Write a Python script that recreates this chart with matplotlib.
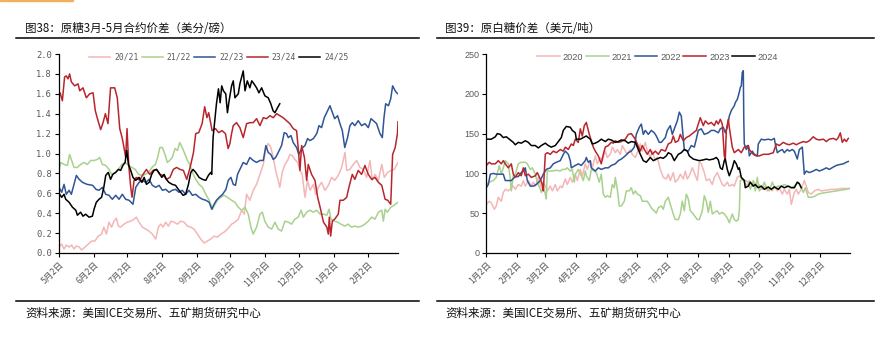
import matplotlib
matplotlib.use("Agg")
import matplotlib.pyplot as plt
from matplotlib.lines import Line2D
from matplotlib.patches import Rectangle

plt.rcParams['font.family'] = ['Noto Sans CJK SC', 'DejaVu Sans']

# ---------------- left chart: raw sugar Mar-May spread (c/lb) ----------------
# x = days after 5月2日
left_ticks = [0, 31, 61, 92, 123, 153, 184, 214, 245, 276]
left_labels = ['5月2日', '6月2日', '7月2日', '8月2日', '9月2日',
               '10月2日', '11月2日', '12月2日', '1月2日', '2月2日']

s2021_days = [
    0, 2.4, 4.5, 6.5, 9, 11.3, 13.4, 15.5, 18, 20.2,
    23.2, 26.2, 29.2, 32, 35, 38, 40, 42.3, 44.6, 47,
    49, 51.2, 53, 55, 58, 61, 64, 67, 69, 71.4,
    74.4, 77.4, 80.4, 83.3, 86.3, 88.7, 90.8, 92.9, 95.2, 97.6,
    100, 102.7, 105.7, 108.6, 111.6, 114.6, 117.6, 120.5, 123.5, 126.5,
    129.5, 132.4, 135.4, 138.4, 141.4, 144.3, 147.3, 150.3, 154, 157,
    160, 163, 165.3, 167.4, 170.3, 173.3, 176.3, 179.3, 182.3, 184.3,
    186.7, 189, 191.2, 193.3, 195.6, 197, 199.2, 201.6, 204, 206,
    208, 210.5, 213, 215, 217, 219.5, 221.8, 224, 227, 229,
    231.4, 234.3, 237.3, 240.3, 243.3, 246, 249.2, 252.2, 255.2, 256.7,
    259.6, 262.6, 265.6, 268.6, 271.5, 274.5, 277.5, 279.6, 282, 285,
    288, 290.3, 293.3, 296.2, 299.2, 302.5]
s2021_vals = [
    0.06, 0.09, 0.04, 0.08, 0.06, 0.08, 0.04, 0.07, 0.06, 0.03,
    0.06, 0.09, 0.12, 0.12, 0.17, 0.19, 0.26, 0.19, 0.31, 0.26,
    0.32, 0.35, 0.27, 0.26, 0.29, 0.31, 0.32, 0.34, 0.36, 0.31,
    0.26, 0.24, 0.22, 0.19, 0.14, 0.26, 0.29, 0.26, 0.31, 0.27,
    0.32, 0.31, 0.29, 0.32, 0.31, 0.27, 0.26, 0.24, 0.19, 0.14,
    0.10, 0.12, 0.14, 0.17, 0.16, 0.19, 0.21, 0.24, 0.29, 0.31,
    0.34, 0.43, 0.39, 0.59, 0.53, 0.63, 0.69, 0.79, 0.89, 1.03,
    1.10, 1.06, 0.96, 0.83, 0.73, 0.66, 0.81, 0.89, 0.93, 0.99,
    0.98, 0.94, 0.91, 0.83, 0.79, 0.56, 0.73, 0.63, 0.69, 0.59,
    0.66, 0.71, 0.63, 0.68, 0.76, 0.73, 0.78, 0.86, 1.01, 0.83,
    0.84, 0.89, 0.93, 0.86, 0.84, 0.76, 0.93, 0.73, 0.79, 0.73,
    0.89, 0.76, 0.81, 0.83, 0.84, 0.91]

s2122_days = [
    0, 1.5, 4.5, 7.5, 9.5, 11.3, 13.4, 16.4, 19.3, 22.3,
    25.3, 28.3, 31.3, 34.2, 36.3, 38.7, 41.7, 44.6, 47, 50,
    53, 56, 59, 62, 65, 68, 71, 74, 77, 80,
    83, 86, 88, 90, 92.3, 94.6, 96.7, 98.8, 101, 103.6,
    105.7, 107.7, 110, 112.5, 114.6, 116.7, 119, 122, 125, 128,
    131, 134, 137, 139.3, 141.4, 144.3, 147.3, 150.3, 154, 157,
    160, 163, 166, 168.9, 171.2, 173.3, 176.3, 179.3, 181.4, 183.7,
    186.7, 189.7, 192.7, 195.6, 198.6, 201.6, 204.6, 207.5, 210.5, 213.5,
    216, 218, 221, 224, 227, 230, 233, 236, 239, 241,
    242.7, 245.6, 248.6, 251.6, 255, 258, 261, 264, 267, 270,
    273, 276, 279, 282, 285, 288, 289.4, 291, 293, 296,
    299, 302.5]
s2122_vals = [
    0.83, 0.91, 0.89, 0.88, 0.99, 0.93, 0.86, 0.86, 0.89, 0.91,
    0.89, 0.93, 0.93, 0.94, 0.96, 0.89, 0.88, 0.84, 0.79, 0.81,
    0.84, 0.89, 0.91, 0.88, 0.86, 0.84, 0.79, 0.78, 0.79, 0.81,
    0.86, 0.89, 0.96, 1.06, 1.06, 0.99, 0.91, 0.93, 0.96, 1.05,
    1.03, 1.11, 1.06, 0.99, 0.93, 0.89, 0.81, 0.74, 0.69, 0.66,
    0.59, 0.53, 0.44, 0.49, 0.53, 0.56, 0.58, 0.56, 0.53, 0.51,
    0.46, 0.43, 0.46, 0.39, 0.26, 0.19, 0.26, 0.39, 0.41, 0.32,
    0.26, 0.24, 0.31, 0.24, 0.22, 0.32, 0.31, 0.29, 0.34, 0.36,
    0.43, 0.36, 0.41, 0.43, 0.41, 0.43, 0.39, 0.39, 0.38, 0.44,
    0.34, 0.32, 0.31, 0.29, 0.27, 0.29, 0.26, 0.27, 0.26, 0.27,
    0.29, 0.32, 0.36, 0.34, 0.41, 0.43, 0.32, 0.44, 0.41, 0.46,
    0.48, 0.51]

s2223_days = [
    0, 2.4, 4.5, 6.5, 9, 11, 13.4, 15.5, 18, 21,
    25, 30, 33, 35.7, 38.7, 41.7, 44.6, 47.6, 50.6, 53.6,
    56.5, 59.5, 62.5, 66, 68.5, 71.4, 74.4, 77.4, 80.4, 83.3,
    86.3, 89.3, 92.3, 95.2, 98.2, 101, 104, 107, 110, 113,
    116, 119, 122, 125, 128, 131, 134, 136.3, 138.4, 140.5,
    143, 146, 149, 151, 153.4, 155.5, 157.5, 159.3, 161.4, 164.4,
    167.4, 170.3, 173.3, 176.3, 179.3, 182.3, 184.6, 186.7, 189, 191.2,
    193.3, 195.6, 198.6, 201, 203, 204.6, 207, 209, 212, 214,
    216.5, 219.5, 221.8, 224, 227, 230, 232, 234.3, 236.7, 239.7,
    241.8, 244, 246, 248.6, 250.7, 252.8, 255, 257.5, 259.6, 261.7,
    264, 267, 270, 273, 276, 278.4, 280.5, 283.4, 286.4, 288.5,
    290, 291.5, 294, 296, 297.7, 300, 301.3, 302.5]
s2223_vals = [
    0.66, 0.61, 0.69, 0.59, 0.63, 0.59, 0.69, 0.78, 0.74, 0.71,
    0.69, 0.68, 0.64, 0.63, 0.66, 0.59, 0.58, 0.54, 0.58, 0.54,
    0.59, 0.54, 0.53, 0.49, 0.66, 0.71, 0.73, 0.71, 0.74, 0.68,
    0.66, 0.68, 0.63, 0.64, 0.61, 0.63, 0.64, 0.61, 0.63, 0.59,
    0.63, 0.58, 0.59, 0.56, 0.54, 0.53, 0.51, 0.44, 0.49, 0.53,
    0.56, 0.59, 0.64, 0.73, 0.76, 0.69, 0.68, 0.79, 0.84, 0.91,
    0.89, 0.96, 0.93, 0.91, 0.93, 0.93, 1.08, 1.01, 0.99, 0.94,
    0.96, 1.01, 1.08, 1.21, 1.20, 1.16, 1.18, 1.11, 1.06, 0.99,
    1.05, 1.08, 1.15, 1.13, 1.15, 1.20, 1.28, 1.26, 1.36, 1.43,
    1.48, 1.41, 1.35, 1.38, 1.30, 1.23, 1.06, 1.16, 1.28, 1.31,
    1.28, 1.33, 1.28, 1.30, 1.26, 1.35, 1.33, 1.30, 1.20, 1.16,
    1.36, 1.50, 1.48, 1.55, 1.68, 1.63, 1.61, 1.60]

s2324_days = [
    0, 1, 3, 5, 6.5, 8, 9.5, 11, 14, 17,
    18.5, 21.4, 24.4, 27.4, 30.4, 32.4, 34.8, 37.2, 39.3, 41.4,
    43.7, 46, 49.7, 52, 54.2, 56.3, 58, 59.5, 60.7, 62.2,
    64, 65.2, 67, 69, 72, 75, 78, 81, 84, 87,
    90, 93, 96, 99, 102, 105, 108, 111, 114, 117,
    120, 122, 124.7, 127.7, 130, 132, 133.6, 136.6, 139.6, 142.5,
    145.5, 148.5, 150.9, 152.5, 154, 155.5, 158.4, 161.4, 164.4, 167.4,
    170.3, 173.3, 176.3, 179.3, 182.3, 185.2, 188.2, 191.2, 194.2, 197.1,
    200, 203, 206, 209, 212, 213.5, 215, 216.5, 219, 221,
    222.4, 225.4, 228.4, 230.8, 233, 236, 239, 240.3, 241.2, 242.4,
    243.9, 246, 249.2, 250.7, 253.7, 256.7, 258.7, 261.7, 264, 267,
    270, 273, 276, 279, 282, 285, 288, 291, 293.3, 296,
    297.7, 300, 302, 302.5]
s2324_vals = [
    1.60, 1.61, 1.53, 1.77, 1.78, 1.75, 1.80, 1.72, 1.68, 1.70,
    1.63, 1.66, 1.56, 1.60, 1.61, 1.43, 1.33, 1.24, 1.31, 1.40,
    1.30, 1.66, 1.66, 1.56, 1.25, 1.16, 1.06, 0.96, 1.25, 0.89,
    0.66, 0.56, 0.73, 0.76, 0.73, 0.79, 0.84, 0.79, 0.83, 0.84,
    0.79, 0.78, 0.74, 0.76, 0.84, 0.86, 0.84, 0.83, 0.74, 0.86,
    1.01, 1.20, 1.21, 1.30, 1.47, 1.36, 1.41, 1.23, 1.25, 1.21,
    1.23, 1.20, 1.05, 1.10, 1.20, 1.28, 1.31, 1.26, 1.16, 1.30,
    1.31, 1.31, 1.35, 1.28, 1.36, 1.35, 1.38, 1.36, 1.40, 1.38,
    1.36, 1.33, 1.30, 1.25, 1.23, 1.05, 0.83, 1.08, 0.96, 0.73,
    0.89, 0.79, 0.73, 0.56, 0.46, 0.31, 0.26, 0.19, 0.36, 0.17,
    0.32, 0.34, 0.39, 0.53, 0.53, 0.56, 0.66, 0.79, 0.74, 0.83,
    0.79, 0.88, 0.79, 0.74, 0.76, 0.71, 0.68, 0.54, 0.53, 0.49,
    0.99, 1.06, 1.20, 1.32]

s2425_days = [
    0, 2.4, 4.5, 6, 9, 12, 15, 16.4, 19.3, 21.4,
    23.8, 26.8, 29.8, 31.3, 33.3, 35.7, 38, 40, 41.7, 44,
    46, 48, 50.6, 53, 55, 57, 59, 60.4, 62, 64,
    66, 68.5, 71.4, 74, 76, 78, 80.4, 82.7, 84.8, 87,
    89, 91.7, 93.8, 95.8, 98, 101, 104, 106.5, 108.6, 110.7,
    113, 115.5, 117.6, 119.6, 122, 125, 128, 131, 133.3, 135.4,
    136.3, 137.5, 139, 140.5, 142.3, 143.8, 145.2, 146.7, 148.8, 150.3,
    151.8, 154, 155.5, 157, 160, 161.4, 164.4, 166, 168, 170.3,
    172, 174, 176.3, 178.4, 180.8, 183.7, 186.7, 189, 191, 192.7,
    195, 197]
s2425_vals = [
    0.60, 0.56, 0.59, 0.54, 0.51, 0.46, 0.43, 0.38, 0.41, 0.37,
    0.39, 0.36, 0.37, 0.44, 0.51, 0.54, 0.56, 0.66, 0.78, 0.81,
    0.74, 0.79, 0.81, 0.84, 0.83, 0.88, 0.91, 1.03, 0.89, 0.83,
    0.76, 0.73, 0.76, 0.71, 0.76, 0.69, 0.71, 0.79, 0.83, 0.84,
    0.81, 0.76, 0.79, 0.74, 0.71, 0.69, 0.68, 0.64, 0.61, 0.58,
    0.59, 0.69, 0.81, 0.84, 0.81, 0.76, 0.74, 0.73, 0.78, 0.81,
    0.79, 1.16, 1.33, 1.50, 1.65, 1.51, 1.68, 1.63, 1.60, 1.41,
    1.53, 1.68, 1.73, 1.56, 1.60, 1.70, 1.83, 1.63, 1.73, 1.66,
    1.73, 1.70, 1.66, 1.61, 1.66, 1.58, 1.56, 1.50, 1.43, 1.41,
    1.46, 1.50]

# ---------------- right chart: white premium (USD/t) ----------------
# x = days after 1月2日
right_ticks = [0, 31, 59, 90, 120, 151, 181, 212, 243, 273, 304, 334]
right_labels = ['1月2日', '2月2日', '3月2日', '4月2日', '5月2日', '6月2日',
                '7月2日', '8月2日', '9月2日', '10月2日', '11月2日', '12月2日']

w2020_days = [
    0, 3, 5, 8, 10, 12, 15, 17, 19, 22,
    25, 27, 29, 32, 35, 37, 39, 42, 45, 47,
    49, 52, 55, 57, 59, 61, 64, 66, 69, 71,
    74, 76, 79, 81, 84, 86, 89, 91, 94, 96,
    99, 101, 104, 106, 109, 111, 114, 116, 119, 121,
    124, 126, 129, 131, 134, 136, 139, 141, 144, 146,
    149, 151, 154, 156, 159, 161, 164, 166, 169, 171,
    174, 177, 180, 182, 184, 187, 189, 192, 194, 197,
    199, 201, 203, 206, 208, 211, 213, 215, 218, 220,
    223, 226, 228, 231, 233, 236, 238, 241, 243, 246,
    248, 251, 253, 256, 258, 261, 263, 266, 268, 271,
    273, 276, 278, 281, 283, 286, 288, 291, 293, 296,
    298, 301, 303, 305, 308, 310, 312, 315, 318, 320,
    322, 325, 328, 332, 335, 340, 345, 350, 355, 360,
    363]
w2020_vals = [
    61, 65, 63, 55, 59, 70, 65, 76, 80, 78,
    82, 84, 80, 86, 84, 91, 84, 91, 84, 89,
    84, 95, 82, 89, 84, 78, 84, 78, 86, 78,
    84, 82, 93, 86, 95, 89, 99, 91, 105, 97,
    112, 105, 116, 107, 122, 112, 120, 116, 128, 120,
    124, 133, 126, 130, 124, 135, 128, 124, 130, 124,
    120, 126, 137, 128, 139, 128, 120, 128, 116, 120,
    105, 95, 93, 99, 91, 101, 89, 93, 99, 93,
    103, 93, 97, 107, 101, 91, 114, 112, 101, 91,
    93, 86, 95, 101, 95, 86, 84, 89, 84, 86,
    84, 95, 97, 93, 89, 84, 91, 84, 89, 82,
    86, 80, 84, 78, 82, 78, 84, 78, 82, 74,
    80, 74, 80, 61, 76, 80, 74, 80, 91, 84,
    76, 74, 78, 80, 78, 79, 80, 80, 81, 81,
    81]

w2021_days = [
    0, 3, 7, 10, 13, 15, 17, 19, 22, 24,
    25, 27, 29, 32, 35, 39, 41, 44, 46, 49,
    51, 54, 55, 57, 59, 60, 61, 64, 67, 70,
    74, 76, 79, 81, 84, 86, 88, 89, 92, 95,
    97, 99, 100, 103, 105, 108, 110, 113, 115, 117,
    119, 121, 124, 126, 128, 129, 131, 133, 135, 138,
    140, 143, 145, 147, 149, 151, 154, 156, 159, 161,
    164, 166, 168, 170, 172, 175, 177, 179, 182, 184,
    187, 189, 192, 194, 196, 198, 200, 202, 204, 207,
    208, 211, 213, 216, 218, 220, 222, 224, 226, 228,
    231, 233, 236, 238, 241, 243, 246, 248, 250, 252,
    253, 254, 257, 259, 262, 264, 267, 269, 271, 273,
    276, 278, 281, 283, 286, 288, 292, 295, 298, 302,
    305, 308, 312, 315, 317, 319, 322, 325, 328, 332,
    335, 340, 345, 350, 355, 360, 363]
w2021_vals = [
    86, 89, 91, 95, 110, 99, 107, 116, 112, 93,
    78, 97, 99, 112, 114, 114, 112, 105, 107, 99,
    89, 80, 76, 84, 74, 68, 103, 103, 103, 104,
    103, 105, 105, 107, 103, 105, 89, 99, 105, 97,
    91, 103, 97, 91, 105, 103, 101, 89, 99, 74,
    70, 72, 70, 86, 82, 95, 80, 59, 59, 65,
    78, 78, 82, 74, 78, 74, 72, 65, 65, 65,
    59, 55, 53, 50, 57, 59, 55, 65, 70, 61,
    49, 42, 42, 49, 65, 53, 74, 68, 53, 49,
    47, 42, 42, 53, 72, 65, 51, 65, 49, 51,
    53, 49, 51, 49, 44, 38, 49, 42, 40, 42,
    53, 91, 93, 91, 89, 80, 91, 78, 95, 78,
    82, 89, 80, 78, 89, 82, 84, 84, 86, 84,
    82, 84, 89, 82, 76, 82, 70, 70, 71, 74,
    75, 76, 77, 78, 79, 80, 81]

w2022_days = [
    0, 2, 4, 7, 10, 14, 17, 19, 22, 25,
    29, 32, 35, 38, 39, 41, 44, 47, 50, 54,
    57, 60, 64, 67, 70, 74, 77, 79, 82, 84,
    85, 89, 92, 95, 99, 100, 102, 104, 105, 109,
    112, 115, 119, 122, 125, 129, 132, 135, 139, 142,
    145, 148, 150, 153, 155, 157, 159, 162, 165, 168,
    170, 173, 175, 179, 181, 184, 186, 188, 191, 193,
    195, 197, 198, 202, 205, 208, 210, 212, 215, 218,
    222, 225, 228, 232, 234, 237, 239, 241, 243, 245,
    248, 249, 251, 253, 254, 255, 256, 257, 257.5, 258,
    260, 262, 263, 266, 268, 271, 272, 275, 278, 282,
    285, 288, 289, 291, 293, 296, 298, 301, 303, 306,
    308, 311, 313, 316, 318, 320, 323, 327, 330, 333,
    337, 340, 343, 347, 350, 353, 357, 360, 362]
w2022_vals = [
    82, 86, 99, 100, 99, 99, 99, 91, 91, 91,
    96, 96, 101, 105, 107, 91, 84, 84, 86, 91,
    99, 105, 107, 112, 114, 116, 124, 128, 124, 116,
    107, 110, 112, 110, 116, 120, 114, 116, 107, 103,
    107, 105, 107, 107, 110, 112, 116, 118, 122, 126,
    128, 133, 149, 158, 162, 149, 154, 149, 154, 151,
    147, 139, 139, 145, 154, 160, 149, 156, 166, 177,
    172, 143, 130, 128, 135, 133, 143, 154, 156, 149,
    151, 154, 154, 151, 156, 158, 151, 158, 172, 179,
    185, 189, 193, 202, 208, 210, 227, 229, 166, 137,
    130, 135, 122, 128, 124, 122, 137, 143, 142, 143,
    142, 144, 137, 126, 128, 130, 126, 130, 128, 130,
    128, 118, 130, 133, 99, 103, 101, 103, 105, 103,
    105, 107, 105, 108, 110, 111, 112, 114, 115]

w2023_days = [
    0, 3, 5, 9, 12, 15, 17, 19, 22, 25,
    27, 29, 32, 35, 37, 39, 42, 45, 49, 51,
    54, 56, 57, 59, 61, 64, 67, 70, 74, 77,
    79, 82, 85, 87, 89, 92, 94, 96, 98, 100,
    103, 105, 107, 109, 112, 115, 117, 119, 122, 125,
    127, 129, 132, 135, 139, 142, 145, 149, 151, 154,
    156, 159, 161, 164, 166, 169, 172, 175, 179, 182,
    185, 187, 189, 192, 194, 197, 200, 203, 207, 210,
    212, 214, 217, 219, 222, 225, 228, 230, 232, 234,
    236, 238, 239, 240, 242, 243, 246, 248, 252, 255,
    258, 262, 263, 267, 270, 273, 277, 282, 287, 290,
    293, 297, 300, 303, 307, 310, 313, 317, 320, 323,
    327, 330, 333, 337, 340, 343, 347, 350, 352, 354,
    356, 358, 360, 362]
w2023_vals = [
    110, 114, 112, 112, 116, 112, 116, 112, 107, 112,
    99, 95, 101, 97, 107, 97, 99, 95, 97, 101,
    93, 86, 78, 124, 126, 124, 128, 126, 130, 128,
    133, 130, 137, 135, 143, 139, 156, 147, 160, 164,
    149, 141, 133, 128, 122, 112, 124, 133, 135, 139,
    138, 141, 139, 140, 143, 149, 150, 143, 137, 128,
    135, 128, 124, 130, 124, 128, 124, 130, 128, 137,
    139, 147, 139, 141, 149, 141, 145, 147, 151, 154,
    162, 170, 160, 166, 162, 164, 160, 166, 162, 168,
    162, 122, 118, 154, 168, 158, 133, 126, 130, 126,
    133, 135, 130, 124, 122, 122, 124, 124, 126, 137,
    135, 139, 137, 136, 138, 136, 138, 140, 139, 141,
    146, 143, 142, 143, 140, 143, 144, 142, 145, 151,
    139, 143, 140, 144]

w2024_days = [
    0, 5, 9, 11, 14, 17, 20, 24, 27, 29,
    32, 35, 39, 42, 45, 49, 52, 55, 59, 62,
    65, 69, 72, 75, 77, 80, 84, 86, 89, 90,
    94, 97, 100, 104, 106, 109, 112, 115, 119, 122,
    125, 129, 132, 135, 139, 142, 145, 149, 151, 154,
    157, 160, 164, 167, 170, 174, 177, 180, 182, 185,
    188, 192, 195, 198, 201, 203, 207, 210, 213, 217,
    220, 223, 227, 230, 232, 234, 236, 238, 239, 241,
    243, 246, 248, 250, 252, 253, 255, 258, 259, 262,
    264, 267, 269, 272, 275, 278, 282, 285, 288, 292,
    295, 298, 302, 305, 308, 311, 313, 315]
w2024_vals = [
    143, 143, 146, 150, 149, 145, 146, 142, 139, 136,
    139, 138, 141, 139, 135, 135, 132, 135, 138, 135,
    133, 135, 140, 145, 154, 159, 158, 154, 151, 143,
    143, 145, 147, 143, 137, 138, 140, 143, 140, 143,
    142, 139, 140, 142, 141, 138, 140, 139, 133, 124,
    116, 114, 120, 116, 118, 120, 119, 122, 126, 124,
    116, 124, 126, 130, 128, 122, 118, 117, 116, 117,
    118, 117, 118, 120, 117, 107, 105, 116, 118, 105,
    97, 107, 116, 112, 105, 107, 95, 91, 82, 84,
    89, 84, 86, 82, 84, 80, 83, 80, 83, 80,
    84, 82, 84, 82, 82, 89, 87, 82]

colors = ['#F4B6B6', '#A9D18E', '#2F5597', '#B8262D', '#000000']

left_series = [('20/21', s2021_days, s2021_vals), ('21/22', s2122_days, s2122_vals),
               ('22/23', s2223_days, s2223_vals), ('23/24', s2324_days, s2324_vals),
               ('24/25', s2425_days, s2425_vals)]
right_series = [('2020', w2020_days, w2020_vals), ('2021', w2021_days, w2021_vals),
                ('2022', w2022_days, w2022_vals), ('2023', w2023_days, w2023_vals),
                ('2024', w2024_days, w2024_vals)]

fig = plt.figure(figsize=(8.82, 3.49), dpi=100)
W, H = 882.0, 349.0

# decoration: orange tab, rules, titles, sources
fig.patches.append(Rectangle((0, 1 - 1.3 / H), 73 / W, 1.3 / H, transform=fig.transFigure,
                             color='#F0B060', zorder=0))
for x0, x1 in [(16, 419), (437, 874)]:
    for y in (38, 301):
        fig.add_artist(Line2D([x0 / W, x1 / W], [1 - y / H, 1 - y / H],
                              color='black', lw=1.1))

tick_gray = '#595959'
fig.text(25 / W, 1 - 28 / H, '图38：原糖3月-5月合约价差（美分/磅）', fontsize=8.3,
         va='center', ha='left', color='#111111')
fig.text(445 / W, 1 - 28 / H, '图39：原白糖价差（美元/吨）', fontsize=8.3,
         va='center', ha='left', color='#111111')
fig.text(25 / W, 1 - 313 / H, '资料来源：美国ICE交易所、五矿期货研究中心', fontsize=8.3,
         va='center', ha='left', color='#111111')
fig.text(445 / W, 1 - 313 / H, '资料来源：美国ICE交易所、五矿期货研究中心', fontsize=8.3,
         va='center', ha='left', color='#111111')


def style_axes(ax):
    for side in ('top', 'right'):
        ax.spines[side].set_visible(False)
    for side in ('left', 'bottom'):
        ax.spines[side].set_linewidth(0.9)
    ax.tick_params(axis='both', direction='out', length=3, width=0.8, colors='black',
                   labelcolor=tick_gray, pad=2)


# left chart
axl = fig.add_axes([59 / W, 1 - 253 / H, 339 / W, 199 / H])
for (name, d, v), c in zip(left_series, colors):
    axl.plot(d, v, color=c, lw=1.1, label=name)
axl.set_xlim(0, 302.5)
axl.set_ylim(0, 2.0)
axl.set_yticks([i * 0.2 for i in range(11)])
axl.set_yticklabels(['%.1f' % (i * 0.2) for i in range(11)],
                    family='DejaVu Sans Mono', fontsize=6.3)
axl.set_xticks(left_ticks)
axl.set_xticklabels(left_labels, rotation=45, ha='right', va='top',
                    rotation_mode='anchor', fontsize=6.3)
style_axes(axl)
fig.legend(*axl.get_legend_handles_labels(), loc='center', ncol=5, frameon=False,
           bbox_to_anchor=(219 / W, 1 - 57 / H), prop={'family': 'DejaVu Sans Mono', 'size': 5.8},
           handlelength=2.6, handletextpad=0.5, columnspacing=0.4,
           labelcolor=tick_gray)

# right chart
axr = fig.add_axes([486.3 / W, 1 - 253 / H, 363.7 / W, 199 / H])
for (name, d, v), c in zip(right_series, colors):
    axr.plot(d, v, color=c, lw=1.1, label=name)
axr.set_xlim(0, 363.7)
axr.set_ylim(0, 250)
axr.set_yticks([0, 50, 100, 150, 200, 250])
axr.set_yticklabels(['0', '50', '100', '150', '200', '250'],
                    family='Liberation Sans', fontsize=6.5)
axr.set_xticks(right_ticks)
axr.set_xticklabels(right_labels, rotation=45, ha='right', va='top',
                    rotation_mode='anchor', fontsize=6.3)
style_axes(axr)
fig.legend(*axr.get_legend_handles_labels(), loc='center', ncol=5, frameon=False,
           bbox_to_anchor=(657.5 / W, 1 - 57 / H), prop={'family': 'Liberation Sans', 'size': 6.6},
           handlelength=2.5, handletextpad=0.3, columnspacing=0.3,
           labelcolor=tick_gray)

fig.savefig('out.png', dpi=100)
